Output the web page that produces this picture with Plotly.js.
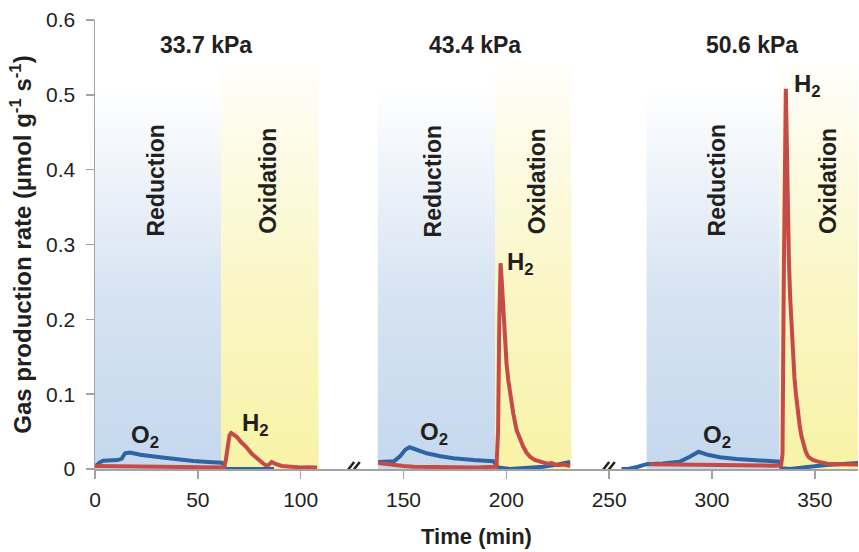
<!DOCTYPE html>
<html>
<head>
<meta charset="utf-8">
<script src="https://cdn.plot.ly/plotly-3.0.1.min.js"></script>
<style>html,body{margin:0;padding:0;background:#fff;}#chart{width:859px;height:552px;}</style>
</head>
<body>
<div id="chart"></div>
<script>
// ---- Data ----
// O2 production rate (blue)
const o2Time = [0, 0.8, 2.5, 4, 7, 11, 13, 14.6, 17, 22, 31.6, 40, 47.8, 55, 61.6, 62.5, 63.5, 70, 80, 87, null,
  137.7, 142, 145.5, 148.3, 151, 153, 156, 161.3, 168, 174.2, 184, 193.6, 194.5, 196, 201.7, 210, 218, 225, 231, null,
  256, 259.3, 264, 268.2, 276, 284.4, 289, 293.5, 298, 303.8, 312, 320, 327, 332.7, 333.8, 338, 344.3, 350, 355.7, 362, 368.7, 371];
const o2Rate = [0.003, 0.005, 0.009, 0.011, 0.0115, 0.012, 0.014, 0.021, 0.022, 0.019, 0.0158, 0.013, 0.0108, 0.0095, 0.0085, 0.006, 0.0, 0.0, 0.0, 0.0, null,
  0.0095, 0.0095, 0.0105, 0.017, 0.026, 0.029, 0.026, 0.021, 0.017, 0.0145, 0.012, 0.0105, 0.008, 0.002, 0.0, 0.001, 0.003, 0.006, 0.0095, null,
  0.0, 0.0, 0.003, 0.0065, 0.0075, 0.0098, 0.016, 0.023, 0.019, 0.0156, 0.0135, 0.012, 0.0105, 0.0098, 0.001, 0.0, 0.002, 0.004, 0.0053, 0.0065, 0.0076, 0.008];
// H2 production rate (red)
const h2Time = [0, 10, 20, 30, 40, 50, 60, 62.8, 63.6, 64.6, 65.4, 66.2, 67.5, 68.9, 71, 73.7, 76, 78.6, 80, 81.5, 83, 84.5, 85.9, 87.5, 90.8, 95, 100, 104, 108, null,
  137.7, 140, 145, 150, 155, 165, 175, 185, 195.2, 196.0, 196.6, 197.2, 197.7, 198.2, 198.8, 199.4, 200.1, 201, 202.1, 203.4, 205, 206.6, 208.2, 209.8, 211.5, 213.8, 216.3, 220, 222, 225, 228, 231, null,
  269.8, 280, 290, 300, 310, 320, 330, 333.6, 334.3, 334.9, 335.4, 335.9, 336.3, 336.7, 337.4, 338.0, 338.7, 339.5, 340.1, 340.8, 341.7, 342.7, 343.5, 344.3, 345.5, 346.8, 349, 351.6, 356, 362, 368.7, 371];
const h2Rate = [0.004, 0.0035, 0.003, 0.0028, 0.0025, 0.0022, 0.002, 0.002, 0.012, 0.035, 0.045, 0.048, 0.046, 0.043, 0.036, 0.029, 0.021, 0.0143, 0.011, 0.008, 0.005, 0.0055, 0.0095, 0.007, 0.004, 0.0025, 0.002, 0.0022, 0.002, null,
  0.008, 0.007, 0.005, 0.004, 0.003, 0.0025, 0.0022, 0.002, 0.003, 0.05, 0.2, 0.275, 0.255, 0.23, 0.186, 0.162, 0.141, 0.118, 0.097, 0.074, 0.052, 0.040, 0.030, 0.022, 0.0164, 0.012, 0.0098, 0.007, 0.008, 0.005, 0.006, 0.004, null,
  0.0065, 0.006, 0.0055, 0.005, 0.0048, 0.0045, 0.0045, 0.005, 0.02, 0.25, 0.46, 0.508, 0.45, 0.368, 0.279, 0.23, 0.19, 0.146, 0.122, 0.101, 0.077, 0.0565, 0.044, 0.034, 0.024, 0.0164, 0.012, 0.0098, 0.007, 0.0065, 0.0067, 0.006];

// Phase boundaries (min) and shading tops
const reductionStart = [0, 137.5, 268.2];
const oxidationStart = [61.3, 194.5, 332.9];
const oxidationEnd   = [108.7, 231.6, 371];
const reductionTop = 0.51;
const oxidationTop = 0.54;

const pressureLabels = ['33.7 kPa', '43.4 kPa', '50.6 kPa'];
const pressureX = [54, 185, 319.4];
const pressureY = 0.567;

const reductionLabelX = [29.5, 164.1, 302.2];
const oxidationLabelX = [84.1, 215.1, 356.5];
const phaseLabelY = 0.385;

const o2LabelX = [24.3, 165, 302.4];
const o2LabelY = [0.043, 0.047, 0.043];
const h2LabelX = [77.8, 207.1, 346.4];
const h2LabelY = [0.059, 0.274, 0.512];

const breakX = [124.7, 248.7];
const xTicks = [0, 50, 100, 150, 200, 250, 300, 350];
const yTicks = [0, 0.1, 0.2, 0.3, 0.4, 0.5, 0.6];

// ---- Build ----
const FONT = 'Liberation Sans, Arial, Helvetica, sans-serif';
const traces = [];
function band(x0, x1, top, colorscale) {
  traces.push({
    type: 'scatter', mode: 'lines',
    x: [x0, x1, x1, x0, x0], y: [0, 0, top, top, 0],
    fill: 'toself', line: {width: 0, color: 'rgba(0,0,0,0)'},
    fillgradient: {type: 'vertical', colorscale: colorscale, start: 0, stop: top},
    hoverinfo: 'skip', showlegend: false
  });
}
const blueScale = [[0, '#c5d8ee'], [0.45, '#d6e3f2'], [1, '#ffffff']];
const yellowScale = [[0, '#f8f3a6'], [0.45, '#faf6c6'], [1, '#fffefa']];
for (let i = 0; i < reductionStart.length; i++) {
  band(reductionStart[i], oxidationStart[i], reductionTop, blueScale);
  band(oxidationStart[i], oxidationEnd[i], oxidationTop, yellowScale);
}
traces.push({type: 'scatter', mode: 'lines', x: o2Time, y: o2Rate, connectgaps: false,
  line: {color: '#2d64a2', width: 4}, name: 'O2', showlegend: false});
traces.push({type: 'scatter', mode: 'lines', x: h2Time, y: h2Rate, connectgaps: false,
  line: {color: '#c64a47', width: 4}, name: 'H2', showlegend: false});

const annotations = [];
const textColor = '#231f20';
function ann(x, y, text, size, angle) {
  annotations.push({x: x, y: y, xref: 'x', yref: 'y', text: text, showarrow: false,
    xanchor: 'center', yanchor: 'middle', textangle: angle || 0,
    font: {family: FONT, size: size, color: textColor}});
}
for (let i = 0; i < 3; i++) {
  ann(pressureX[i], pressureY, '<b>' + pressureLabels[i] + '</b>', 23);
  ann(reductionLabelX[i], phaseLabelY, '<b>Reduction</b>', 23, -90);
  ann(oxidationLabelX[i], phaseLabelY, '<b>Oxidation</b>', 23, -90);
  ann(o2LabelX[i], o2LabelY[i], '<b>O<sub>2</sub></b>', 24);
  ann(h2LabelX[i], h2LabelY[i], '<b>H<sub>2</sub></b>', 24);
}

const shapes = [];
breakX.forEach(function (bx) {
  [-2.8, 2.8].forEach(function (off) {
    shapes.push({type: 'line', xref: 'x', yref: 'y', xsizemode: 'pixel', ysizemode: 'pixel',
      xanchor: bx, yanchor: 0, x0: off - 5.5, x1: off + 5.5, y0: -7, y1: 7,
      line: {color: '#222', width: 2.5}});
  });
});

const layout = {
  width: 859, height: 552,
  margin: {l: 95, r: 1, t: 20, b: 83},
  paper_bgcolor: '#fff', plot_bgcolor: 'rgba(0,0,0,0)',
  showlegend: false,
  font: {family: FONT, color: textColor},
  xaxis: {
    range: [0, 371], tickvals: xTicks, ticktext: xTicks.map(String),
    showline: true, linecolor: '#a3a3a3', linewidth: 1.5,
    ticks: 'outside', ticklen: 8, tickwidth: 1.5, tickcolor: '#a3a3a3',
    showgrid: false, zeroline: false,
    tickfont: {size: 21, color: '#231f20', family: FONT},
    ticklabelstandoff: 3,
    title: {text: '<b>Time (min)</b>', font: {size: 22, family: FONT, color: textColor}, standoff: 19}
  },
  yaxis: {
    range: [0, 0.6], tickvals: yTicks, ticktext: yTicks.map(String),
    showline: true, linecolor: '#a3a3a3', linewidth: 1.5,
    ticks: 'outside', ticklen: 8, tickwidth: 1.5, tickcolor: '#a3a3a3',
    showgrid: false, zeroline: false,
    tickfont: {size: 21, color: '#231f20', family: FONT},
    ticklabelstandoff: 6,
    title: {text: '<b>Gas production rate (µmol g<sup>-1</sup> s<sup>-1</sup>)</b>', font: {size: 24, family: FONT, color: textColor}, standoff: 7}
  },
  annotations: annotations,
  shapes: shapes
};

Plotly.newPlot('chart', traces, layout, {displayModeBar: false, staticPlot: true});
</script>
</body>
</html>
